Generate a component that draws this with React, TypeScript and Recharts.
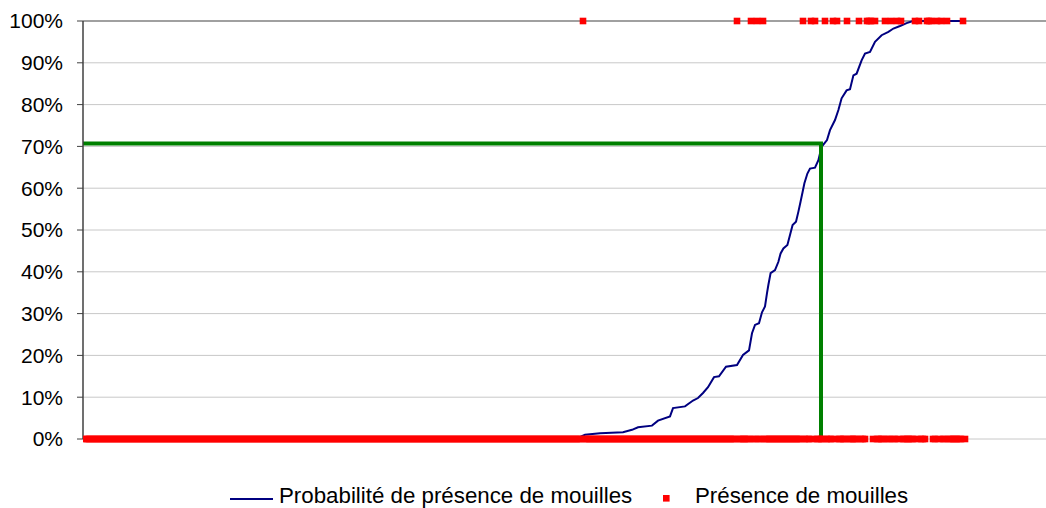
import {
  ComposedChart,
  Line,
  Scatter,
  XAxis,
  YAxis,
  CartesianGrid,
  Legend,
  ReferenceLine,
} from "recharts";

// observations sorted by fitted probability (rank 1..obsCount)
const obsCount = 441;
// ranks where a mouille is present (drawn at 100%)
const presenceRanks = [
  250, 327, 334, 337, 340, 360, 364, 366, 371, 375, 377, 382, 388, 392, 393, 394,
  396, 401, 404, 407, 409, 416, 418, 422, 423, 424, 427, 429, 432, 440,
];

// fitted probability curve
const curveRank = [
  1, 150, 230, 248, 251, 258.5, 270, 274.5, 277.5, 284.5, 287.5, 293.5, 295, 301, 305,
  307.5, 310, 312.5, 315.5, 318, 321.5, 327, 330, 333, 334.5, 336, 338, 339.5, 341, 342,
  342.7, 343.8, 346, 347.7, 348.8, 350.2, 352.2, 353.5, 354.8, 356.5, 357.7, 358.8, 359.8,
  360.7, 362.2, 363.5, 366, 367.7, 369.3, 372, 373.5, 376, 377.7, 379.3, 381.8, 383.5,
  385.2, 386.8, 389.3, 391, 393.5, 396, 399.3, 402.7, 405.2, 408.5, 411.8, 415, 440.5,
];
const curvePct = [
  0, 0.05, 0.2, 0.4, 1.0, 1.4, 1.6, 2.2, 2.8, 3.2, 4.4, 5.4, 7.4, 7.8, 9.2, 9.8, 11.0,
  12.4, 14.8, 15.0, 17.3, 17.7, 20.1, 21.2, 25.3, 27.3, 27.7, 30.3, 31.7, 34.9, 36.9, 39.7,
  40.4, 42.4, 44.4, 45.6, 46.4, 48.8, 51.2, 52.0, 54.4, 56.8, 59.1, 61.2, 63.5, 64.7, 64.9,
  66.7, 69.9, 71.5, 73.9, 76.3, 78.7, 81.5, 83.4, 83.7, 87.0, 87.4, 90.6, 92.2, 92.6, 95.0,
  96.6, 97.4, 98.2, 98.8, 99.5, 100, 100,
];

// threshold drawn in green
const thresholdRank = 369;
const thresholdPct = 70.7;

const yTicks = [0, 10, 20, 30, 40, 50, 60, 70, 80, 90, 100];

const curveData = curveRank.map((x, i) => ({ x, y: curvePct[i] }));
const obsData = Array.from({ length: obsCount }, (_, i) => i + 1).map((x) => ({
  x,
  y: presenceRanks.includes(x) ? 100 : 0,
}));
const thresholdData = [
  { x: 0, y: thresholdPct },
  { x: thresholdRank, y: thresholdPct },
  { x: thresholdRank, y: 0 },
];

const FONT = "'Liberation Sans', Arial, sans-serif";

const Square = (props: any) => (
  <rect x={props.cx - 3.3} y={props.cy - 3.3} width={6.6} height={6.6} fill="#ff0000" />
);

const LegendBox = () => (
  <svg width={1046} height={69} style={{ display: "block", overflow: "visible" }}>
    <line x1={230} x2={273} y1={60} y2={60} stroke="#000080" strokeWidth={2} />
    <text x={279} y={64} fontSize={22.3} fontFamily={FONT} fill="#000">
      Probabilité de présence de mouilles
    </text>
    <rect x={663} y={56} width={6.6} height={6.6} fill="#ff0000" />
    <text x={695} y={64} fontSize={22.3} fontFamily={FONT} fill="#000">
      Présence de mouilles
    </text>
  </svg>
);

export default function App() {
  return (
    <div style={{ position: "absolute", left: 0, top: 0, background: "#fff" }}>
      <ComposedChart width={1046} height={508} margin={{ top: 21, right: 0, bottom: 0, left: 0 }}>
        <CartesianGrid horizontal vertical={false} stroke="#c8c8c8" />
        <XAxis
          type="number"
          dataKey="x"
          domain={[0, 481.5]}
          allowDataOverflow
          height={0}
          tick={false}
          tickLine={false}
          axisLine={{ stroke: "#404040", strokeWidth: 1.5 }}
        />
        <YAxis
          type="number"
          domain={[0, 100]}
          ticks={yTicks}
          width={83}
          tickSize={6}
          tickMargin={14}
          tickFormatter={(v) => `${v}%`}
          tick={{ fontSize: 21, fontFamily: FONT, fill: "#000" }}
          tickLine={{ stroke: "#404040" }}
          axisLine={{ stroke: "#404040", strokeWidth: 1.5 }}
        />
        <ReferenceLine y={100} stroke="#8a8a8a" strokeWidth={1.5} />
        <Legend verticalAlign="bottom" content={() => <LegendBox />} />
        <Line
          data={curveData}
          dataKey="y"
          name="Probabilité de présence de mouilles"
          stroke="#000080"
          strokeWidth={2}
          dot={false}
          isAnimationActive={false}
        />
        <Scatter
          data={obsData}
          dataKey="y"
          name="Présence de mouilles"
          shape={Square}
          isAnimationActive={false}
        />
        <Line
          data={thresholdData}
          dataKey="y"
          stroke="#008000"
          strokeWidth={4}
          dot={false}
          legendType="none"
          isAnimationActive={false}
        />
      </ComposedChart>
    </div>
  );
}
